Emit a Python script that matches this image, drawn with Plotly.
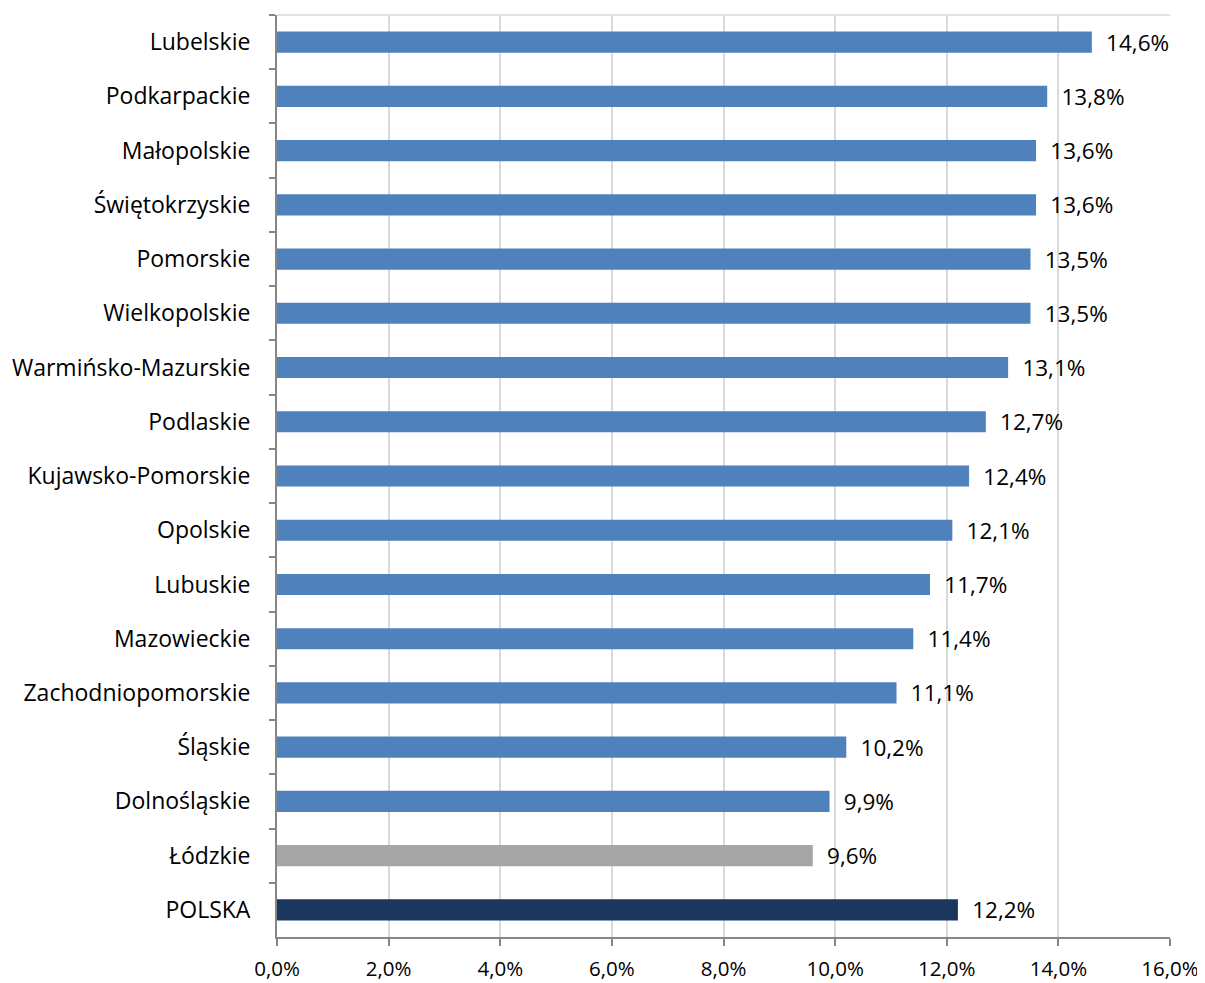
import plotly.graph_objects as go

regions = ["Lubelskie", "Podkarpackie", "Małopolskie", "Świętokrzyskie", "Pomorskie",
           "Wielkopolskie", "Warmińsko-Mazurskie", "Podlaskie", "Kujawsko-Pomorskie",
           "Opolskie", "Lubuskie", "Mazowieckie", "Zachodniopomorskie", "Śląskie",
           "Dolnośląskie", "Łódzkie", "POLSKA"]
values = [14.6, 13.8, 13.6, 13.6, 13.5, 13.5, 13.1, 12.7, 12.4, 12.1, 11.7, 11.4,
          11.1, 10.2, 9.9, 9.6, 12.2]
colors = ["#4F81BD"] * 15 + ["#A5A5A5", "#1B375D"]
labels = [f"{v:.1f}%".replace(".", ",") for v in values]
tick_vals = [0, 2, 4, 6, 8, 10, 12, 14, 16]
tick_text = [f"{t:.1f}%".replace(".", ",") for t in tick_vals]

FONT = "Open Sans, sans-serif"
FS = 22.5

fig = go.Figure(go.Bar(
    y=regions, x=values, orientation="h",
    marker=dict(color=colors, line=dict(width=0)),
    text=["\u2002" + l for l in labels], textposition="outside", cliponaxis=False,
    constraintext="none",
    textfont=dict(size=FS, color="#000000", family=FONT),
))

fig.update_layout(
    width=1205, height=983,
    margin=dict(l=269, r=43, t=7, b=54, autoexpand=False),
    paper_bgcolor="white", plot_bgcolor="white",
    font=dict(family=FONT, size=FS, color="#000000"),
    bargap=0.61,
    showlegend=False,
    shapes=[dict(type="line", xref="paper", yref="paper", x0=0, x1=1, y0=1, y1=1,
                 line=dict(color="#D9D9D9", width=1.5))],
)
fig.update_xaxes(range=[0, 16], tickvals=tick_vals, ticktext=tick_text,
                 showgrid=True, gridcolor="#D9D9D9", gridwidth=1.5,
                 showline=True, linecolor="#868686", linewidth=2,
                 ticks="outside", ticklen=7, tickcolor="#868686", tickwidth=2,
                 zeroline=False, tickfont=dict(size=20.5), automargin=False,
                 ticklabelstandoff=5)
fig.update_yaxes(autorange="reversed", showline=True, linecolor="#868686", linewidth=2,
                 ticks="outside", tickson="boundaries", ticklen=6,
                 tickcolor="#868686", tickwidth=2, showgrid=False,
                 tickfont=dict(size=23), automargin=False, ticklabelstandoff=20)

fig.write_html("out.html")
